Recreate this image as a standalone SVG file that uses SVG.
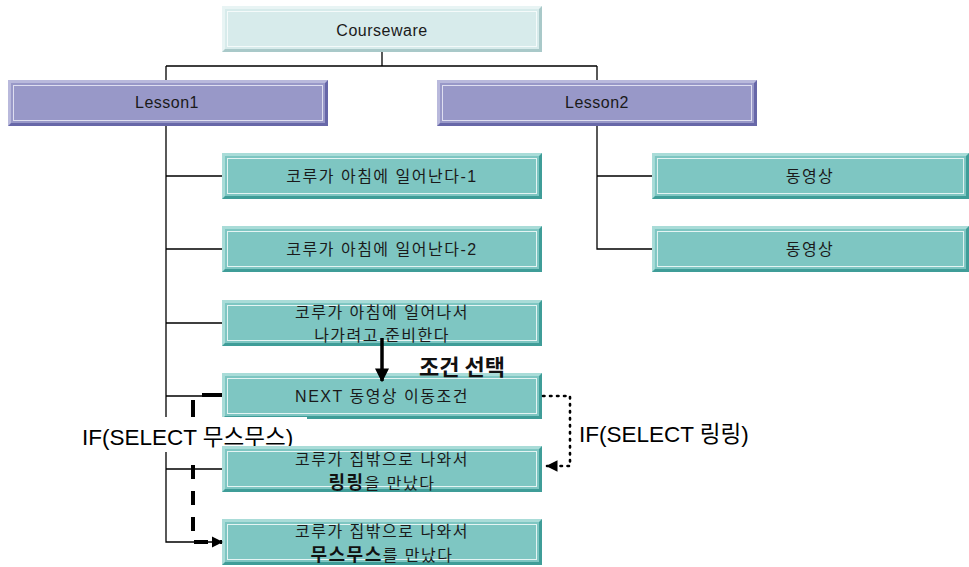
<svg xmlns="http://www.w3.org/2000/svg" xmlns:xlink="http://www.w3.org/1999/xlink" width="969" height="567" viewBox="0 0 969 567">
  <style>
    .t { font-family: "Liberation Sans", "Noto Sans CJK KR", sans-serif; font-size: 16px; letter-spacing: 0.5px; fill: #1a1a1a; text-anchor: middle; }
    .k { letter-spacing: 1.5px; }
    .tb { font-family: "Noto Sans CJK KR", "Liberation Sans", sans-serif; font-weight: bold; fill: #111; }
    .lbl { font-family: "Liberation Sans", "Noto Sans CJK KR", sans-serif; font-size: 22.5px; fill: #000; }
    .tree { stroke: #000; stroke-width: 1.3; fill: none; }
  </style>
  <defs>
    <!-- bevelled teal box -->
    <symbol id="tealBox" viewBox="0 0 320 46" width="320" height="46" preserveAspectRatio="none">
      <rect x="0" y="0" width="320" height="46" fill="#3f9d98"/>
      <polygon points="0,0 320,0 317,3 3,3 3,43 0,46" fill="#a9dcd8"/>
      <rect x="3" y="3" width="314" height="40" fill="#7ec6c2"/>
      <rect x="5.5" y="5.5" width="309" height="35" fill="none" stroke="#e4f4f3" stroke-width="1"/>
    </symbol>
    <!-- bevelled lesson box -->
    <symbol id="lessonBox" viewBox="0 0 320 46" width="320" height="46" preserveAspectRatio="none">
      <rect x="0" y="0" width="320" height="46" fill="#6767a8"/>
      <polygon points="0,0 320,0 317,3 3,3 3,43 0,46" fill="#b9b9dc"/>
      <rect x="3" y="3" width="314" height="40" fill="#9898c8"/>
      <rect x="5.5" y="5.5" width="309" height="35" fill="none" stroke="#dedef0" stroke-width="1"/>
    </symbol>
    <!-- bevelled root box -->
    <symbol id="rootBox" viewBox="0 0 320 46" width="320" height="46" preserveAspectRatio="none">
      <rect x="0" y="0" width="320" height="46" fill="#a9c9c9"/>
      <polygon points="0,0 320,0 317,3 3,3 3,43 0,46" fill="#e8f4f4"/>
      <rect x="3" y="3" width="314" height="40" fill="#d7ebeb"/>
      <rect x="5.5" y="5.5" width="309" height="35" fill="none" stroke="#f4fafa" stroke-width="1"/>
    </symbol>
    <marker id="arrowSolid" viewBox="0 0 10 10" refX="9" refY="5" markerWidth="4" markerHeight="4" orient="auto" markerUnits="strokeWidth">
      <path d="M0,0 L10,5 L0,10 z" fill="#000"/>
    </marker>
    <marker id="arrowSmall" viewBox="0 0 10 10" refX="9" refY="5" markerWidth="2.8" markerHeight="2.8" orient="auto" markerUnits="strokeWidth">
      <path d="M0,0 L10,5 L0,10 z" fill="#000"/>
    </marker>
    <marker id="arrowDot" viewBox="0 0 10 10" refX="9" refY="5" markerWidth="4.5" markerHeight="4.5" orient="auto" markerUnits="strokeWidth">
      <path d="M0,0 L10,5 L0,10 z" fill="#000"/>
    </marker>
  </defs>

  <!-- tree connectors -->
  <g id="connectors">
    <path class="tree" d="M382,51 V66 M166,66 H597 M166,66 V80 M597,66 V80"/>
    <path class="tree" d="M166,125 V542 H222 M166,176 H222 M166,249 H222 M166,323 H222 M166,396 H222 M166,469 H222"/>
    <path class="tree" d="M597,125 V249 H652 M597,176 H652"/>
  </g>

  <!-- nodes -->
  <g id="courseware">
    <use xlink:href="#rootBox" x="222" y="6"/>
    <text class="t" x="382" y="36">Courseware</text>
  </g>
  <g id="lesson1">
    <use xlink:href="#lessonBox" x="8" y="80"/>
    <text class="t" x="167" y="108">Lesson1</text>
  </g>
  <g id="lesson2">
    <use xlink:href="#lessonBox" x="437" y="80"/>
    <text class="t" x="597" y="108">Lesson2</text>
  </g>
  <g id="l1-wake1">
    <use xlink:href="#tealBox" x="222" y="153"/>
    <text class="t k" x="382" y="182">코루가 아침에 일어난다-1</text>
  </g>
  <g id="l1-wake2">
    <use xlink:href="#tealBox" x="222" y="226"/>
    <text class="t k" x="382" y="255">코루가 아침에 일어난다-2</text>
  </g>
  <g id="l1-ready">
    <use xlink:href="#tealBox" x="222" y="300"/>
    <text class="t k" x="382" y="318">코루가 아침에 일어나서</text>
    <text class="t k" x="382" y="341">나가려고 준비한다</text>
  </g>
  <g id="l1-next">
    <use xlink:href="#tealBox" x="222" y="373"/>
    <text class="t k" x="382" y="402">NEXT 동영상 이동조건</text>
  </g>
  <g id="l2-video1">
    <use xlink:href="#tealBox" x="652" y="153" width="317"/>
    <text class="t k" x="810" y="182">동영상</text>
  </g>
  <g id="l2-video2">
    <use xlink:href="#tealBox" x="652" y="226" width="317"/>
    <text class="t k" x="810" y="255">동영상</text>
  </g>

  <!-- label with white backing over the tree -->
  <g id="label-mus">
    <rect x="76" y="417" width="231" height="35" fill="#fff"/>
    <text class="lbl" x="82" y="445">IF(SELECT 무스무스)</text>
  </g>

  <g id="l1-ringring">
    <use xlink:href="#tealBox" x="222" y="446"/>
    <text class="t k" x="382" y="465">코루가 집밖으로 나와서</text>
    <text class="t k" x="382" y="489"><tspan class="tb" style="font-size:18px">링링</tspan>을 만났다</text>
  </g>
  <g id="l1-musmus">
    <use xlink:href="#tealBox" x="222" y="519"/>
    <text class="t k" x="382" y="537">코루가 집밖으로 나와서</text>
    <text class="t k" x="382" y="561"><tspan class="tb" style="font-size:18px">무스무스</tspan>를 만났다</text>
  </g>

  <!-- flow arrows -->
  <g id="flow">
    <line x1="382" y1="338" x2="382" y2="381" stroke="#000" stroke-width="3.5" marker-end="url(#arrowSolid)"/>
    <text class="tb" x="419" y="375" style="font-size:22px">조건 선택</text>
    <path d="M202,395 H222" stroke="#000" stroke-width="4" fill="none"/>
    <path d="M193,400 V417" stroke="#000" stroke-width="4" fill="none"/>
    <path d="M193,455 V542 H222" stroke="#000" stroke-width="4" fill="none" stroke-dasharray="14,12" stroke-dashoffset="-10" marker-end="url(#arrowSmall)"/>
    <path d="M543,396 H570 V466 H547" stroke="#000" stroke-width="2.6" fill="none" stroke-dasharray="1.5,5.5" stroke-linecap="round" marker-end="url(#arrowDot)"/>
    <text class="lbl" x="579" y="442">IF(SELECT 링링)</text>
  </g>
</svg>
